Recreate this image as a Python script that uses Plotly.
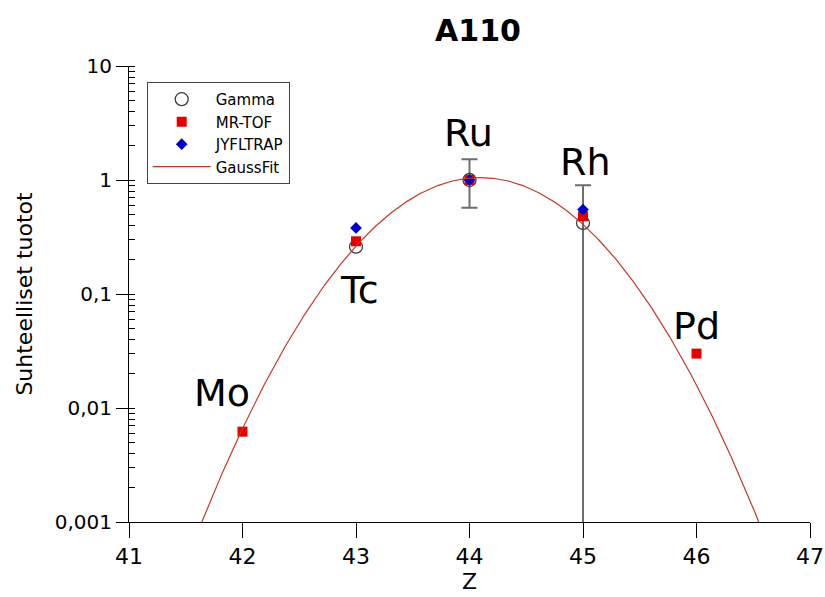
import numpy as np
import plotly.graph_objects as go

# Proton number of each isotope at A = 110
z_values = [42, 43, 44, 45, 46]
elements = ["Mo", "Tc", "Ru", "Rh", "Pd"]

# Relative yields (normalised to Ru)
gamma_z = [43, 44, 45]
gamma_yield = [0.26, 1.0, 0.42]
gamma_err_z = [44, 45]
gamma_err_yield = [1.0, 0.42]
gamma_err_plus = [0.52, 0.48]
gamma_err_minus = [0.43, 0.42]

mrtof_z = [42, 43, 44, 45, 46]
mrtof_yield = [0.0062, 0.29, 1.0, 0.48, 0.030]

jyfltrap_z = [43, 44, 45]
jyfltrap_yield = [0.38, 1.0, 0.55]

# Gaussian fit parameters
gauss_amp = 1.05
gauss_mu = 44.095
gauss_sigma = 0.658

tick_vals = [0.001, 0.01, 0.1, 1, 10]
tick_text = ["0,001", "0,01", "0,1", "1", "10"]
x_ticks = [41, 42, 43, 44, 45, 46, 47]

FONT = "DejaVu Sans"

fit_z = np.linspace(41.0, 47.0, 601)
fit_y = gauss_amp * np.exp(-((fit_z - gauss_mu) ** 2) / (2 * gauss_sigma ** 2))

fig = go.Figure()

fig.add_trace(go.Scatter(
    x=gamma_err_z, y=gamma_err_yield, mode="markers",
    marker=dict(size=1, color="rgba(0,0,0,0)"),
    error_y=dict(type="data", array=gamma_err_plus, arrayminus=gamma_err_minus,
                 color="#6e6e6e", thickness=2, width=8),
    showlegend=False, hoverinfo="skip",
))

fig.add_trace(go.Scatter(
    x=gamma_z, y=gamma_yield, mode="markers", name="Gamma",
    marker=dict(symbol="circle-open", size=13, color="#3c3c3c",
                line=dict(width=1.3, color="#3c3c3c")),
))

fig.add_trace(go.Scatter(
    x=mrtof_z, y=mrtof_yield, mode="markers", name="MR-TOF",
    marker=dict(symbol="square", size=10, color="#e60000"),
))

fig.add_trace(go.Scatter(
    x=jyfltrap_z, y=jyfltrap_yield, mode="markers", name="JYFLTRAP",
    marker=dict(symbol="diamond", size=9, color="#0000c8"),
))

fig.add_trace(go.Scatter(
    x=fit_z, y=fit_y, mode="lines", name="GaussFit",
    line=dict(color="#c0392b", width=1.2),
))

# Element labels next to their points
label_pos = {
    "Mo": (41.82, 0.0136),
    "Tc": (43.03, 0.108),
    "Ru": (43.99, 2.6),
    "Rh": (45.02, 1.44),
    "Pd": (46.0, 0.052),
}
for el in elements:
    lx, ly = label_pos[el]
    fig.add_annotation(x=lx, y=np.log10(ly), text=el, showarrow=False,
                       font=dict(family=FONT, size=38, color="black"),
                       xanchor="center", yanchor="middle")

fig.update_layout(
    width=825, height=597,
    margin=dict(l=129, r=15, t=66, b=75, autoexpand=False),
    paper_bgcolor="white", plot_bgcolor="white",
    font=dict(family=FONT, size=20, color="black"),
    title=dict(text="<b>A110</b>", x=0.5125, xref="paper",
               y=1 - 30 / 597, yanchor="middle", xanchor="center",
               font=dict(family=FONT, size=30, color="black")),
    legend=dict(x=0.026, y=0.965, xanchor="left", yanchor="top",
                bgcolor="white", bordercolor="#444", borderwidth=1,
                font=dict(family=FONT, size=15, color="black"),
                tracegroupgap=0, itemwidth=58),
    showlegend=True,
)

fig.update_xaxes(
    range=[41, 47], tickvals=x_ticks, ticks="outside", ticklen=15,
    tickcolor="black", showline=True, linecolor="black", linewidth=1,
    showgrid=False, zeroline=False, mirror=False, automargin=False,
    title=dict(text="Z", font=dict(family=FONT, size=22), standoff=4),
    tickfont=dict(family=FONT, size=22),
)

fig.update_yaxes(
    type="log", range=[-3, 1], tickvals=tick_vals, ticktext=tick_text,
    ticks="outside", ticklen=12, tickcolor="black",
    showline=True, linecolor="black", linewidth=1,
    showgrid=False, zeroline=False, automargin=False,
    minor=dict(ticks="inside", ticklen=6, tickcolor="black", dtick="D1", showgrid=False),
    title=dict(text="Suhteelliset tuotot", font=dict(family=FONT, size=22), standoff=16),
    tickfont=dict(family=FONT, size=20),
)

fig.write_html("out.html")
